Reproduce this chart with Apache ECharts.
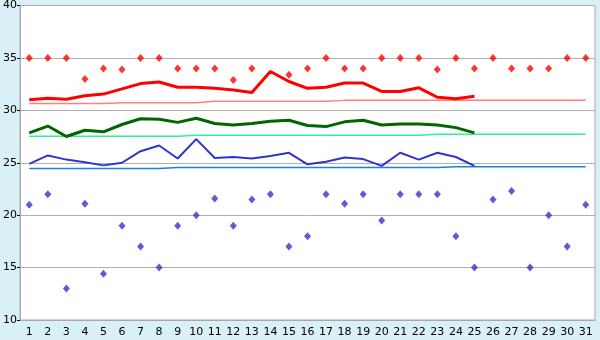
<!DOCTYPE html>
<html>
<head>
<meta charset="utf-8">
<script src="https://cdn.jsdelivr.net/npm/echarts@6/dist/echarts.min.js"></script>
<style>html,body{margin:0;padding:0;background:#d9f0f7}#c{width:600px;height:340px}</style>
</head>
<body>
<div id="c"></div>
<script>
const days = Array.from({length: 31}, (_, i) => String(i + 1));
const yTicks = [10, 15, 20, 25, 30, 35, 40];

const redDiamonds = [35, 35, 35, 33, 34, 33.9, 35, 35, 34, 34, 34, 32.9, 34, null, 33.4, 34, 35, 34, 34, 35, 35, 35, 33.9, 35, 34, 35, 34, 34, 34, 35, 35];
const redLine = [31.0, 31.15, 31.05, 31.4, 31.55, 32.05, 32.55, 32.7, 32.2, 32.2, 32.1, 31.95, 31.7, 33.7, 32.75, 32.1, 32.2, 32.6, 32.6, 31.8, 31.8, 32.15, 31.25, 31.1, 31.35];
const pinkLine = [30.64, 30.64, 30.64, 30.64, 30.64, 30.73, 30.73, 30.73, 30.73, 30.73, 30.86, 30.86, 30.86, 30.86, 30.86, 30.86, 30.86, 30.95, 30.95, 30.95, 30.95, 30.95, 30.95, 30.95, 30.95, 30.95, 30.95, 30.95, 30.95, 30.95, 30.95];
const greenLine = [27.85, 28.5, 27.5, 28.1, 27.95, 28.65, 29.2, 29.15, 28.85, 29.25, 28.75, 28.6, 28.75, 28.95, 29.05, 28.55, 28.45, 28.9, 29.05, 28.6, 28.7, 28.7, 28.6, 28.35, 27.85];
const lightGreenLine = [27.52, 27.52, 27.52, 27.52, 27.52, 27.52, 27.52, 27.52, 27.52, 27.62, 27.62, 27.62, 27.62, 27.62, 27.62, 27.62, 27.62, 27.62, 27.62, 27.62, 27.62, 27.62, 27.71, 27.71, 27.71, 27.71, 27.71, 27.71, 27.71, 27.71, 27.71];
const blueLine = [24.9, 25.7, 25.3, 25.05, 24.75, 25.0, 26.1, 26.65, 25.4, 27.25, 25.45, 25.55, 25.4, 25.65, 25.95, 24.85, 25.1, 25.5, 25.35, 24.7, 25.95, 25.3, 25.95, 25.55, 24.7];
const lightBlueLine = [24.44, 24.44, 24.44, 24.44, 24.44, 24.44, 24.44, 24.44, 24.54, 24.54, 24.54, 24.54, 24.54, 24.54, 24.54, 24.54, 24.54, 24.54, 24.54, 24.54, 24.54, 24.54, 24.54, 24.63, 24.63, 24.63, 24.63, 24.63, 24.63, 24.63, 24.63];
const blueDiamonds = [21, 22, 13, 21.1, 14.4, 19, 17, 15, 19, 20, 21.6, 19, 21.5, 22, 17, 18, 22, 21.1, 22, 19.5, 22, 22, 22, 18, 15, 21.5, 22.3, 15, 20, 17, 21];

const chart = echarts.init(document.getElementById('c'), null, {renderer: 'canvas'});
const font = 'DejaVu Sans';
chart.setOption({
  backgroundColor: '#d9f0f7',
  animation: false,
  grid: {left: 20, right: 5, top: 5, bottom: 20, show: true, backgroundColor: '#ffffff', borderColor: '#a8a8a8', borderWidth: 1, containLabel: false},
  xAxis: {
    type: 'category', data: days, boundaryGap: true,
    axisLine: {lineStyle: {color: '#a8a8a8', width: 1}},
    axisTick: {alignWithLabel: true, length: 5, lineStyle: {color: '#000000'}},
    axisLabel: {color: '#000', fontSize: 11, fontFamily: font, margin: 7, interval: 0},
    splitLine: {show: false}
  },
  yAxis: {
    type: 'value', min: yTicks[0], max: yTicks[yTicks.length - 1], interval: 5,
    axisLine: {show: true, lineStyle: {color: '#a8a8a8'}},
    axisTick: {show: true, length: 3, lineStyle: {color: '#000'}},
    axisLabel: {color: '#000', fontSize: 11, fontFamily: font, margin: 3},
    splitLine: {lineStyle: {color: '#b0b0b0', width: 1}}
  },
  series: [
    {type: 'line', data: pinkLine, symbol: 'none', lineStyle: {color: '#ff8080', width: 1.5}, z: 2},
    {type: 'line', data: lightGreenLine, symbol: 'none', lineStyle: {color: '#33ee99', width: 1.5}, z: 2},
    {type: 'line', data: lightBlueLine, symbol: 'none', lineStyle: {color: '#1a80e6', width: 1.5}, z: 2},
    {type: 'line', data: redLine, symbol: 'none', lineStyle: {color: '#ff0000', width: 3}, z: 3},
    {type: 'line', data: greenLine, symbol: 'none', lineStyle: {color: '#006600', width: 3}, z: 3},
    {type: 'line', data: blueLine, symbol: 'none', lineStyle: {color: '#3333cc', width: 2}, z: 3},
    {type: 'scatter', data: redDiamonds, symbol: 'diamond', symbolSize: [7, 8], itemStyle: {color: '#ff0000'}, z: 4},
    {type: 'scatter', data: blueDiamonds, symbol: 'diamond', symbolSize: [7, 8], itemStyle: {color: '#3333cc'}, z: 4}
  ]
});
</script>
</body>
</html>
